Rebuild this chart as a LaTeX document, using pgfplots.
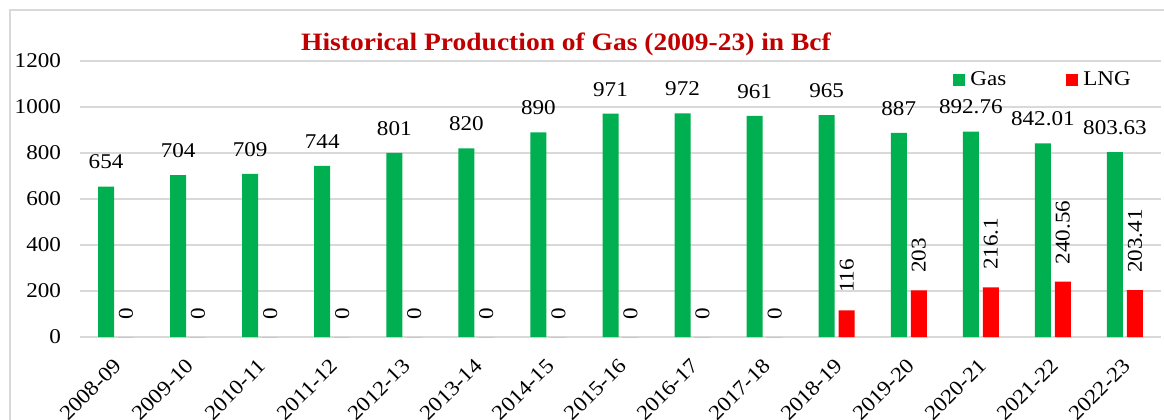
\documentclass[border=0pt]{standalone}
\usepackage{pgfplots}
\pgfplotsset{compat=1.18}
\usepackage{pgfplotstable}
\usepackage{fontspec}
\setmainfont{Liberation Serif}[FakeStretch=1.1]
\definecolor{gasgreen}{HTML}{00B050}
\definecolor{lngred}{HTML}{FF0000}
\definecolor{titlered}{HTML}{C00000}
\definecolor{gridgray}{HTML}{D9D9D9}
\newcommand{\lblfont}{\fontsize{10.5pt}{12pt}\selectfont}

\pgfplotstableread{
x gas gaslab lng lnglab
0 654 654 0 0
1 704 704 0 0
2 709 709 0 0
3 744 744 0 0
4 801 801 0 0
5 820 820 0 0
6 890 890 0 0
7 971 971 0 0
8 972 972 0 0
9 961 961 0 0
10 965 965 116 116
11 887 887 203 203
12 892.76 892.76 216.1 216.1
13 842.01 842.01 240.56 240.56
14 803.63 803.63 203.41 203.41
}\prod

\begin{document}
\begin{tikzpicture}
\useasboundingbox (0,0) rectangle (582pt,209.5pt);
\draw[gridgray, line width=0.8pt] (5pt,-20pt) rectangle (600pt,204.5pt);
\node[font=\bfseries\fontsize{12.5pt}{15pt}\selectfont, text=titlered, anchor=base] at (283pt,184.5pt) {Historical Production of Gas (2009-23) in Bcf};
\begin{axis}[
  scale only axis,
  at={(40pt,41pt)}, anchor=south west,
  width=540.5pt, height=138pt,
  xmin=-0.5, xmax=14.5, ymin=0, ymax=1200,
  ytick={0,200,...,1200},
  xtick={0,...,14},
  xticklabels={2008-09,2009-10,2010-11,2011-12,2012-13,2013-14,2014-15,2015-16,2016-17,2017-18,2018-19,2019-20,2020-21,2021-22,2022-23},
  axis line style={draw=none},
  major tick length=0pt,
  ymajorgrids,
  major grid style={gridgray, line width=0.8pt},
  tick label style={font=\lblfont},
  /pgf/number format/assume math mode=true,
  /pgf/number format/1000 sep={},
  yticklabel style={xshift=-6pt},
  xticklabel style={xshift=-1.5pt, yshift=-10pt, rotate=45, anchor=north east, inner sep=0pt},
  ybar,
  point meta=explicit symbolic,
  legend columns=2,
  legend style={at={(0.802,0.931)}, anchor=west, draw=none, fill=none, font=\lblfont,
    nodes={inner sep=0pt},
    /tikz/every odd column/.append style={column sep=2.5pt},
    /tikz/every even column/.append style={column sep=30pt}},
  legend image code/.code={\path[#1] (0pt,-3pt) rectangle (6pt,3pt);},
]
\addplot[ybar, bar width=8pt, bar shift=-5pt, fill=gasgreen, draw=none,
  nodes near coords,
  nodes near coords style={font=\lblfont, anchor=south, inner xsep=0pt, inner ysep=8.5pt, text=black}]
  table[x=x, y=gas, meta=gaslab] {\prod};
\addlegendentry{Gas}
\addplot[ybar, bar width=8pt, bar shift=5pt, fill=lngred, draw=none,
  nodes near coords,
  nodes near coords style={font=\lblfont, rotate=90, anchor=west, inner xsep=8.5pt, inner ysep=0pt, text=black}]
  table[x=x, y=lng, meta=lnglab] {\prod};
\addlegendentry{LNG}
\end{axis}
\end{tikzpicture}
\end{document}
